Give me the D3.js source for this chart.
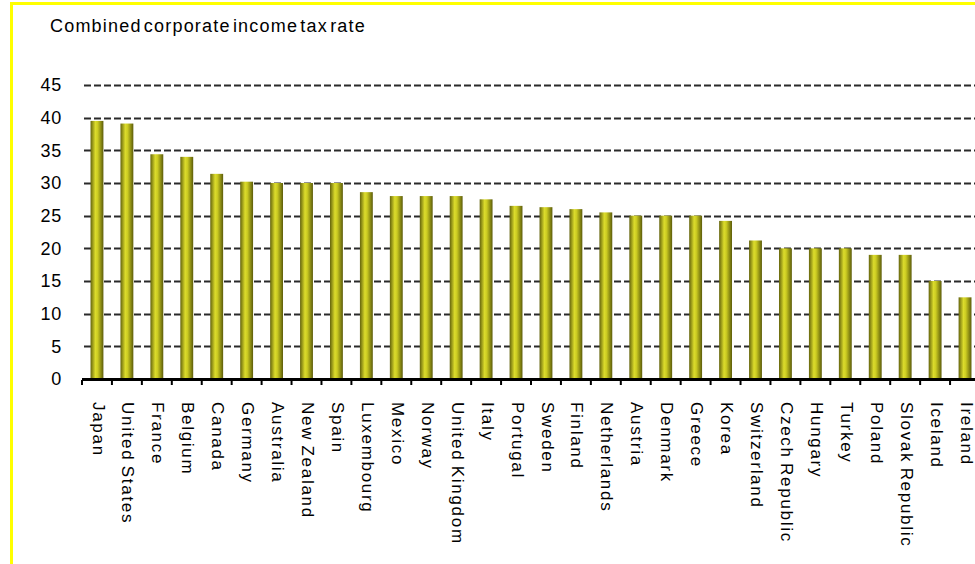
<!DOCTYPE html>
<html>
<head>
<meta charset="utf-8">
<script src="https://cdn.jsdelivr.net/npm/d3@7"></script>
<style>
  body { margin: 0; background: #fff; }
  svg { display: block; font-family: "Liberation Sans", Arial, sans-serif; }
</style>
</head>
<body>
<svg id="chart"></svg>
<script>
// countries, sorted by rate
const countries = [
  "Japan", "United States", "France", "Belgium", "Canada", "Germany",
  "Australia", "New Zealand", "Spain", "Luxembourg", "Mexico", "Norway",
  "United Kingdom", "Italy", "Portugal", "Sweden", "Finland", "Netherlands",
  "Austria", "Denmark", "Greece", "Korea", "Switzerland", "Czech Republic",
  "Hungary", "Turkey", "Poland", "Slovak Republic", "Iceland", "Ireland"
];

// combined corporate income tax rate (%)
const rates = [
  39.5, 39.1, 34.4, 34.0, 31.4, 30.2,
  30.0, 30.0, 30.0, 28.6, 28.0, 28.0,
  28.0, 27.5, 26.5, 26.3, 26.0, 25.5,
  25.0, 25.0, 25.0, 24.2, 21.2, 20.0,
  20.0, 20.0, 19.0, 19.0, 15.0, 12.5
];

const yTicks = [0, 5, 10, 15, 20, 25, 30, 35, 40, 45];

const width = 975;
const height = 564;

const svg = d3.select("#chart").attr("width", width).attr("height", height);

// gradient for the cylinder-like bars
const grad = svg.append("defs").append("linearGradient")
  .attr("id", "barGrad")
  .attr("x1", "0%").attr("x2", "100%").attr("y1", "0%").attr("y2", "0%");
grad.append("stop").attr("offset", "0%").attr("stop-color", "#64640c");
grad.append("stop").attr("offset", "38%").attr("stop-color", "#dcdc2c");
grad.append("stop").attr("offset", "55%").attr("stop-color", "#cccc22");
grad.append("stop").attr("offset", "100%").attr("stop-color", "#5c5c0a");

// yellow frame
svg.append("line")
  .attr("x1", 11.5).attr("x2", 11.5).attr("y1", 3).attr("y2", height)
  .attr("stroke", "#ffff00").attr("stroke-width", 3);
svg.append("line")
  .attr("x1", 10).attr("x2", width).attr("y1", 3.5).attr("y2", 3.5)
  .attr("stroke", "#ffff00").attr("stroke-width", 3);

// title
svg.append("text")
  .attr("x", 50).attr("y", 32)
  .attr("font-size", 18)
  .attr("letter-spacing", 1.2)
  .attr("word-spacing", -4)
  .attr("fill", "#000")
  .text("Combined corporate income tax rate");

const x = d3.scaleBand()
  .domain(countries)
  .range([82, 980])
  .paddingInner(0.57)
  .paddingOuter(0.285);

const y = d3.scaleLinear()
  .domain([0, 45])
  .range([379, 85]);

// dashed gridlines
svg.append("g")
  .selectAll("line")
  .data(yTicks.filter(d => d > 0))
  .join("line")
  .attr("x1", 84).attr("x2", width)
  .attr("y1", d => Math.round(y(d)) + 0.5)
  .attr("y2", d => Math.round(y(d)) + 0.5)
  .attr("stroke", "#2a2a2a")
  .attr("stroke-width", 1.8)
  .attr("stroke-dasharray", "7,3");

// y labels
svg.append("g")
  .selectAll("text")
  .data(yTicks)
  .join("text")
  .attr("x", 62)
  .attr("y", d => y(d))
  .attr("dy", "0.35em")
  .attr("text-anchor", "end")
  .attr("font-size", 18)
  .attr("letter-spacing", 0.8)
  .attr("fill", "#000")
  .text(d => d);

// bars
svg.append("g")
  .selectAll("rect")
  .data(countries)
  .join("rect")
  .attr("x", d => x(d))
  .attr("width", x.bandwidth())
  .attr("y", (d, i) => y(rates[i]))
  .attr("height", (d, i) => y(0) - y(rates[i]))
  .attr("fill", "url(#barGrad)");

// x axis: thick baseline with small ticks on band edges
const step = x.step();
const tickPos = d3.range(countries.length + 1).map(i => 82 + i * step);
svg.append("line")
  .attr("x1", 82).attr("x2", width)
  .attr("y1", 379.5).attr("y2", 379.5)
  .attr("stroke", "#000").attr("stroke-width", 3);
svg.append("g")
  .selectAll("line")
  .data(tickPos)
  .join("line")
  .attr("x1", d => d).attr("x2", d => d)
  .attr("y1", 380).attr("y2", 385)
  .attr("stroke", "#000").attr("stroke-width", 2);

// country labels, rotated to read top to bottom
svg.append("g")
  .selectAll("text")
  .data(countries)
  .join("text")
  .attr("transform", d => `translate(${x(d) + x.bandwidth() / 2 + 1.5},402) rotate(90)`)
  .attr("dy", "0.35em")
  .attr("font-size", 17)
  .attr("letter-spacing", 1.7)
  .attr("word-spacing", -2)
  .attr("fill", "#000")
  .text(d => d);
</script>
</body>
</html>
